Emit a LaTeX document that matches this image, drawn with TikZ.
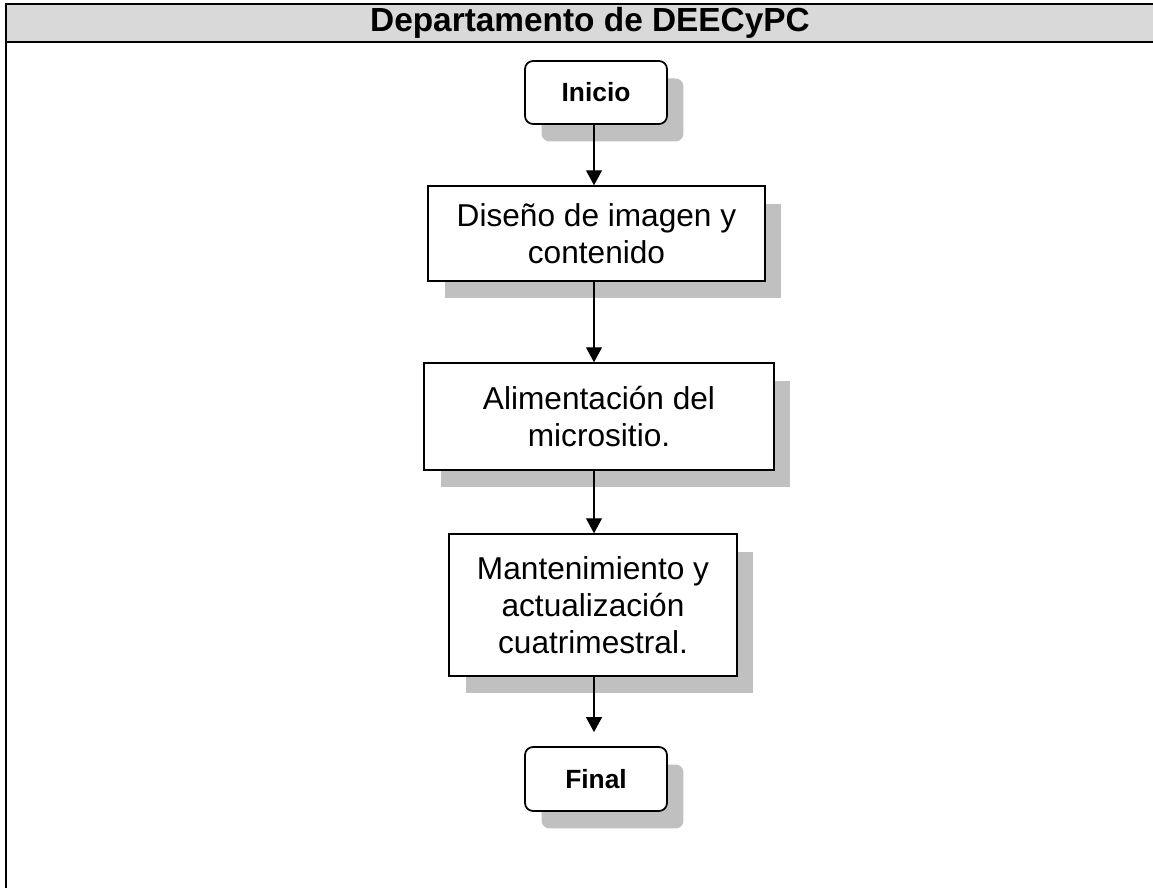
\documentclass[tikz,border=0pt]{standalone}
\usepackage{fontspec}
\setmainfont{Liberation Sans}
\usepackage{tikz}
\usepackage{xcolor}
\usetikzlibrary{arrows.meta,shadows}
\definecolor{Header_Gray}{HTML}{D9D9D9}
\definecolor{Shadow_Gray}{HTML}{C0C0C0}

\begin{document}
\begin{tikzpicture}[>={Triangle[length=0.3cm,width=0.32cm]}, x=0.02cm, y=-0.02cm,
    boxshadow/.style={drop shadow={shadow xshift=0.33cm, shadow yshift=-0.35cm, fill=Shadow_Gray, opacity=1}},
    procbox/.style={draw, line width=0.85pt, fill=white, boxshadow, align=center, inner sep=0pt, font=\fontsize{18}{21}\selectfont},
    termbox/.style={procbox, line width=1pt, rounded corners=0.16cm, font=\fontsize{15}{18}\selectfont\bfseries},
    flow/.style={->, line width=0.6pt}]
    \useasboundingbox (0,0) rectangle (1153,888);
    \clip (0,0) rectangle (1153,888);

    % Header
    \fill[Header_Gray] (6,4) rectangle (1170,42);
    \draw[line width=1.2pt] (6,900) -- (6,4) -- (1170,4);
    \draw[line width=1.2pt] (6,42) -- (1170,42);
    \node[font=\fontsize{19}{22}\selectfont\bfseries] (title) at (590,23) {Departamento de DEECyPC};

    % Steps
    \node[termbox, minimum width=2.84cm, minimum height=1.26cm] (inicio) at (596,92.5) {Inicio};
    \node[procbox, minimum width=6.74cm, minimum height=1.9cm] (diseno) at (596.5,233.5) {Diseño de imagen y\\contenido};
    \node[procbox, minimum width=7.0cm, minimum height=2.14cm] (alimentacion) at (599,416.5) {Alimentación del\\micrositio.};
    \node[procbox, minimum width=5.76cm, minimum height=2.84cm] (mantenimiento) at (593,605) {Mantenimiento y\\actualización\\cuatrimestral.};
    \node[termbox, minimum width=2.84cm, minimum height=1.28cm] (final) at (596,779) {Final};

    % Arrows
    \coordinate (spine) at (594,0);
    \draw[flow] (inicio.south -| spine) -- (diseno.north -| spine);
    \draw[flow] (diseno.south -| spine) -- (alimentacion.north -| spine);
    \draw[flow] (alimentacion.south -| spine) -- (mantenimiento.north -| spine);
    \draw[flow, shorten >=0.28cm] (mantenimiento.south -| spine) -- (final.north -| spine);

\end{tikzpicture}
\end{document}
